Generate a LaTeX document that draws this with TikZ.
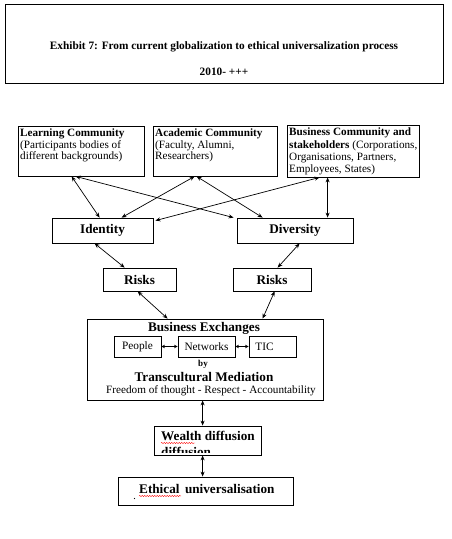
\documentclass[tikz,border=0pt]{standalone}
\usepackage{fontspec}
\setmainfont{Liberation Serif}
\usetikzlibrary{arrows.meta,calc,decorations.pathmorphing}
\begin{document}
\begin{tikzpicture}[x=1pt,y=-1pt,
  box/.style={draw=black,line width=0.8pt,inner sep=0pt,rectangle},
  txt/.style={inner sep=0pt,align=left,anchor=north west},
  bigb/.style={font=\bfseries\fontsize{13.2}{15}\selectfont},
  conn/.style={line width=0.7pt,{Stealth[length=5pt,width=4pt]}-{Stealth[length=5pt,width=4pt]}},
  small/.style={line width=0.7pt,{Stealth[length=3.5pt,width=3.5pt]}-{Stealth[length=3.5pt,width=3.5pt]}},
  squig/.style={red,line width=0.4pt,decorate,decoration={snake,amplitude=0.6pt,segment length=2.5pt}}]
\useasboundingbox (0,0) rectangle (452,539);
% title
\node[box,minimum width=438pt,minimum height=79pt] (title) at (224,43.5) {};
\node[inner sep=0pt,font=\bfseries\fontsize{11.3}{13}\selectfont] (t1) at (224,47) {Exhibit 7: From current globalization to ethical universalization process};
\node[inner sep=0pt,font=\bfseries\fontsize{11.3}{13}\selectfont] (t2) at (224,72) {2010- +++};
% top boxes
\node[box,minimum width=126pt,minimum height=50pt] (learn) at (81,151) {};
\node[txt,font=\fontsize{11.2}{11.3}\selectfont] (learnt) at (20,129) {\textbf{Learning Community}\\(Participants bodies of\\different backgrounds)};
\node[box,minimum width=124pt,minimum height=50pt] (acad) at (215,151) {};
\node[txt,font=\fontsize{11.2}{11.3}\selectfont] (acadt) at (155,129) {\textbf{Academic Community}\\(Faculty, Alumni,\\Researchers)};
\node[box,minimum width=132pt,minimum height=52pt] (bus) at (353,151) {};
\node[txt,font=\fontsize{11.2}{12.2}\selectfont] (bust) at (289,128) {\textbf{Business Community and}\\\textbf{stakeholders} (Corporations,\\Organisations, Partners,\\Employees, States)};
% identity / diversity
\node[box,bigb,minimum width=101pt,minimum height=25pt] (ident) at (102.5,230.5) {Identity};
\node[box,bigb,minimum width=116pt,minimum height=25pt] (div) at (295,230.5) {Diversity};
% risks
\node[box,bigb,minimum width=73pt,minimum height=23pt] (riskl) at (139.5,279.5) {Risks};
\node[box,bigb,minimum width=78pt,minimum height=23pt] (riskr) at (272,279.5) {Risks};
% business exchanges
\node[box,minimum width=236pt,minimum height=81pt] (be) at (205,359.5) {};
\node[inner sep=0pt,bigb] (bet) at (204,328) {Business Exchanges};
\node[box,minimum width=47pt,minimum height=21pt,font=\fontsize{11.3}{13}\selectfont] (people) at (137.5,346.5) {People};
\node[box,minimum width=57pt,minimum height=21pt,font=\fontsize{11.3}{13}\selectfont] (net) at (206.5,346.5) {Networks};
\node[box,minimum width=47pt,minimum height=21pt] (tic) at (272.5,346.5) {};
\node[inner sep=0pt,font=\fontsize{11.3}{13}\selectfont] (tict) at (264.5,346.5) {TIC};
\node[inner sep=0pt,font=\bfseries\fontsize{9}{10}\selectfont] (by) at (203,364) {by};
\node[inner sep=0pt,bigb] (tm) at (204,377) {Transcultural Mediation};
\node[inner sep=0pt,font=\fontsize{11.2}{13}\selectfont] (free) at (211,391) {Freedom of thought - Respect - Accountability};
% wealth
\node[box,minimum width=107pt,minimum height=29pt] (wealth) at (207.5,440.5) {};
\begin{scope}
\clip (154.5,426.5) rectangle (261,452.5);
\node[inner sep=0pt,anchor=base west,bigb] (wt) at (161,440.5) {Wealth diffusion};
\node[inner sep=0pt,anchor=base west,bigb] (wt2) at (161,456.5) {diffusion};
\end{scope}
\draw[squig] (161,443) -- (195,443);
% ethical
\node[box,minimum width=175pt,minimum height=28pt] (eth) at (205.5,491) {};
\node[inner sep=0pt,anchor=base west,bigb] (etht) at (139,493.5) {Ethical\, universalisation};
\draw[squig] (139,496) -- (181,496);
\fill (134.5,498.5) circle (0.7pt);
% connectors
\draw[conn] ($(learn.south west)+(54,0)$) -- ($(ident.north west)+(48,0)$);
\draw[conn] ($(learn.south west)+(58,0)$) -- ($(div.north west)+(-3,0)$);
\draw[conn] ($(acad.south west)+(42,0)$) -- ($(ident.north west)+(70,0)$);
\draw[conn] ($(acad.south west)+(44,0)$) -- ($(div.north west)+(26,0)$);
\draw[conn] ($(bus.south west)+(33,0)$) -- ($(ident.north east)+(2,3)$);
\draw[conn] ($(bus.south west)+(41,0)$) -- ($(div.north west)+(91,0)$);
\draw[conn] ($(ident.south west)+(43,0)$) -- ($(riskl.north west)+(22,0)$);
\draw[conn] ($(div.south west)+(63,0)$) -- ($(riskr.north west)+(45,0)$);
\draw[conn] ($(riskl.south west)+(35,0)$) -- ($(be.north west)+(81,0)$);
\draw[conn] ($(riskr.south west)+(42,0)$) -- ($(be.north west)+(176,0)$);
\draw[small] (people.east) -- (net.west);
\draw[small] (net.east) -- (tic.west);
\draw[conn] ($(be.south west)+(116,0)$) -- ($(wealth.north west)+(49,0)$);
\draw[conn] ($(wealth.south west)+(49,0)$) -- ($(eth.north west)+(85,0)$);
\end{tikzpicture}
\end{document}
